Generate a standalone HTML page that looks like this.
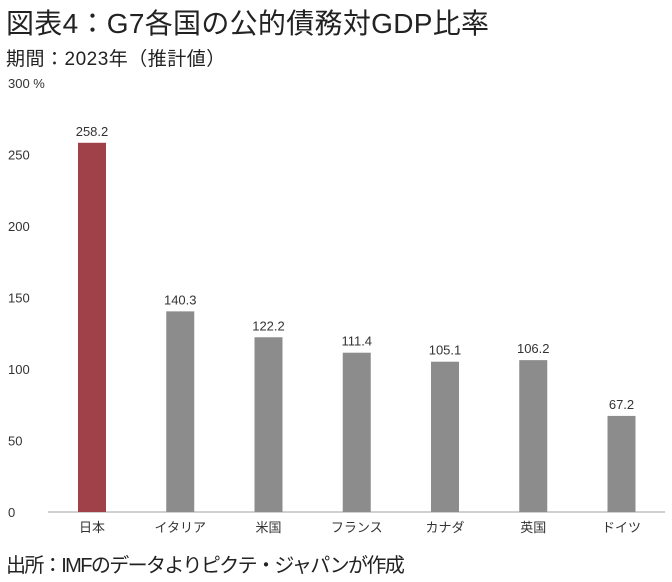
<!DOCTYPE html>
<html><head><meta charset="utf-8"><style>
body{margin:0;background:#fff;width:672px;height:582px;overflow:hidden;font-family:"Liberation Sans","Noto Sans CJK JP",sans-serif;color:#222}
.t{position:absolute;left:6px;top:2px;font-size:28px;letter-spacing:0.3px;white-space:nowrap}
.s{position:absolute;left:6px;top:44px;font-size:19px;letter-spacing:0.5px;white-space:nowrap}
.f{position:absolute;left:6px;top:549px;font-size:20px;white-space:nowrap;letter-spacing:-1.6px}
svg{position:absolute;left:0;top:0}
</style></head><body>
<div class="t">図表4：G7各国の公的債務対GDP比率</div>
<div class="s">期間：2023年（推計値）</div>
<svg id="c" width="672" height="582"></svg>
<div class="f">出所：IMFのデータよりピクテ・ジャパンが作成</div>
<script>
const categories=["日本","イタリア","米国","フランス","カナダ","英国","ドイツ"];
const values=[258.2,140.3,122.2,111.4,105.1,106.2,67.2];
const valueLabels=["258.2","140.3","122.2","111.4","105.1","106.2","67.2"];
const ticks=[0,50,100,150,200,250,300];
const NS="http://www.w3.org/2000/svg";
const svg=document.getElementById('c');
const y0=512,pxu=1.43;
const y=v=>y0-v*pxu;
const x=i=>92+i*88.25;
function mk(t,a){const e=document.createElementNS(NS,t);for(const k in a)e.setAttribute(k,a[k]);svg.appendChild(e);return e;}
ticks.forEach(t=>{
 const e=mk('text',{x:8,y:y(t)+5,'font-size':13,fill:'#333'});
 e.textContent=t===300?'300 %':String(t);
 
 
});
const ax=mk('line',{x1:48,x2:665,y1:y0,y2:y0,stroke:'#d0d0d0','stroke-width':2});


values.forEach((v,i)=>{
 const r=mk('rect',{x:x(i)-14,y:y(v),width:28,height:y0-y(v),fill:i===0?'#a0414a':'#8c8c8c'});
 
 
 const l=mk('text',{x:x(i),y:y(v)-7,'font-size':13,fill:'#333','text-anchor':'middle'});
 l.textContent=valueLabels[i];
 
 
 const c=mk('text',{x:x(i),y:y0+20,'font-size':13,fill:'#333','text-anchor':'middle'});
 c.textContent=categories[i];
 
 
});
</script>
</body></html>
